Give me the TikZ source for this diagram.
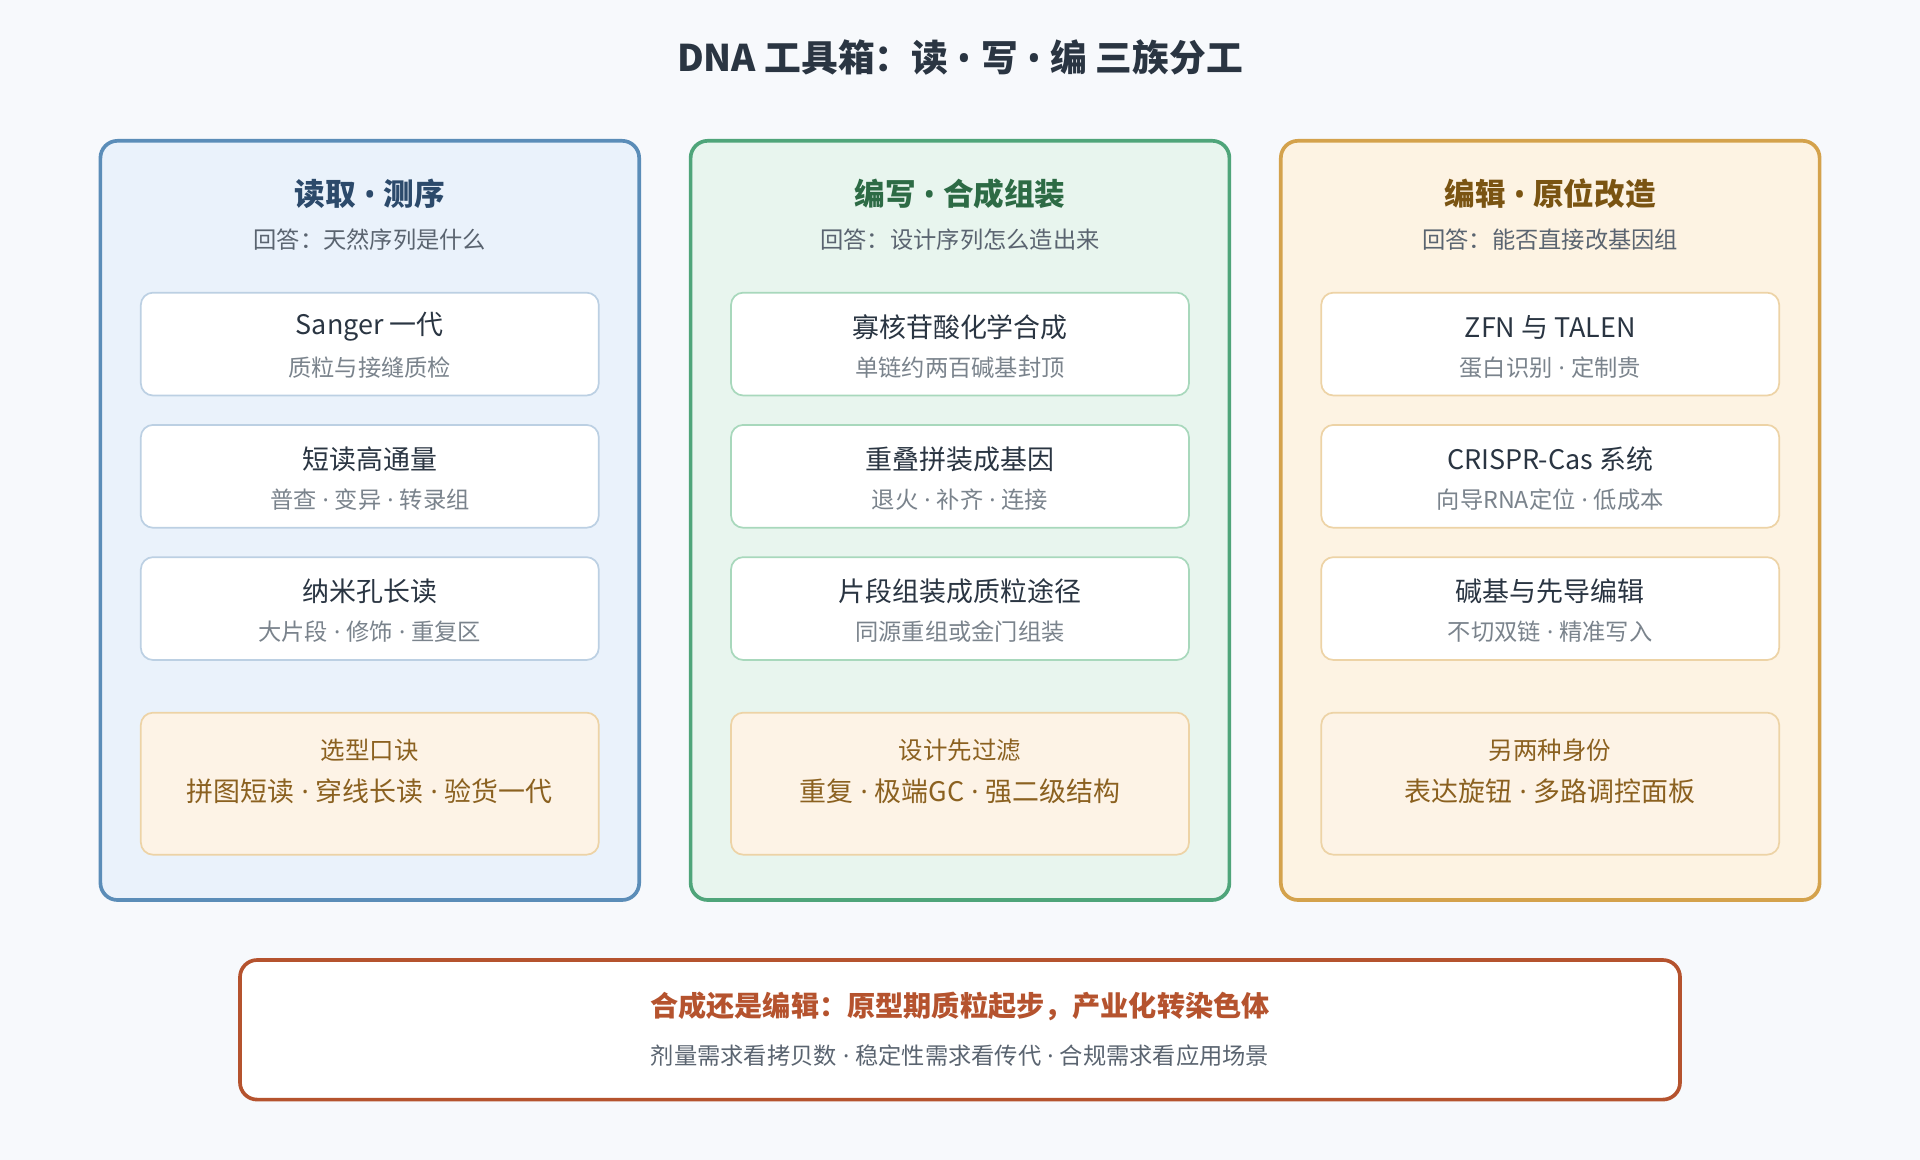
\documentclass[tikz,border=0pt]{standalone}
\usepackage{fontspec}
\setmainfont{Noto Sans CJK SC}
\newfontfamily\lat{Noto Sans}
\newcommand{\mysep}{{\lat\ ·\ }}
\newcommand{\mybul}{{\lat\ •\ }}
\definecolor{bg}{HTML}{F7F9FC}
\definecolor{bB}{HTML}{5B8DB8}\definecolor{fB}{HTML}{EAF2FB}\definecolor{tB}{HTML}{2C4A6B}\definecolor{iB}{HTML}{BCD0E3}
\definecolor{bG}{HTML}{4FA57A}\definecolor{fG}{HTML}{E8F5EE}\definecolor{tG}{HTML}{2D6B45}\definecolor{iG}{HTML}{A8D8BC}
\definecolor{bO}{HTML}{D4A24C}\definecolor{fO}{HTML}{FDF3E3}\definecolor{tO}{HTML}{7A5412}\definecolor{iO}{HTML}{EDD3A6}
\definecolor{tip}{HTML}{FDF3E6}\definecolor{tipt}{HTML}{8B6120}
\definecolor{red}{HTML}{B5532E}\definecolor{gray1}{HTML}{5A6470}\definecolor{dark}{HTML}{2A3542}\definecolor{sub}{HTML}{7A838C}
\begin{document}
\begin{tikzpicture}[x=0.5pt,y=-0.5pt,
 panel/.style={draw=#1,line width=1.5pt,rounded corners=7pt},
 item/.style={draw=#1,line width=0.7pt,fill=white,rounded corners=5pt},
 ptitle/.style={font=\bfseries\fontsize{12.5}{14}\selectfont,text=#1},
 psub/.style={font=\fontsize{9.5}{11}\selectfont,text=gray1},
 it/.style={font=\fontsize{11}{13}\selectfont,text=dark},
 its/.style={font=\fontsize{9.5}{11}\selectfont,text=sub},
 tipl/.style={font=\fontsize{10}{12}\selectfont,text=tipt},
 tip2/.style={font=\fontsize{11}{13}\selectfont,text=tipt}]
\fill[bg] (0,0) rectangle (1568,947);
\node[font=\bfseries\fontsize{15}{18}\selectfont,text=dark] (title) at (784,47) {DNA 工具箱：读\mybul 写\mybul 编 三族分工};
\foreach \x/\b/\f/\t/\i/\T/\S/\Aa/\Ab/\Ba/\Bb/\Ca/\Cb/\Da/\Db/\n in {
 82/bB/fB/tB/iB/{读取\mybul 测序}/{回答：天然序列是什么}/{Sanger 一代}/{质粒与接缝质检}/{短读高通量}/{普查\mysep 变异\mysep 转录组}/{纳米孔长读}/{大片段\mysep 修饰\mysep 重复区}/{选型口诀}/{拼图短读\mysep 穿线长读\mysep 验货一代}/a,
 564/bG/fG/tG/iG/{编写\mybul 合成组装}/{回答：设计序列怎么造出来}/{寡核苷酸化学合成}/{单链约两百碱基封顶}/{重叠拼装成基因}/{退火\mysep 补齐\mysep 连接}/{片段组装成质粒途径}/{同源重组或金门组装}/{设计先过滤}/{重复\mysep 极端GC\mysep 强二级结构}/b,
 1046/bO/fO/tO/iO/{编辑\mybul 原位改造}/{回答：能否直接改基因组}/{ZFN 与 TALEN}/{蛋白识别\mysep 定制贵}/{CRISPR-Cas 系统}/{向导RNA定位\mysep 低成本}/{碱基与先导编辑}/{不切双链\mysep 精准写入}/{另两种身份}/{表达旋钮\mysep 多路调控面板}/c}{
 \draw[panel=\b,fill=\f] (\x,115) rectangle ++(440,620);
 \node[ptitle=\t] (pt\n) at (\x+220,158) {\T};
 \node[psub] (ps\n) at (\x+220,196) {\S};
 \draw[item=\i] (\x+33,239) rectangle ++(374,84);
 \node[it] (a1\n) at (\x+220,267) {\Aa}; \node[its] (a2\n) at (\x+220,300) {\Ab};
 \draw[item=\i] (\x+33,347) rectangle ++(374,84);
 \node[it] (b1\n) at (\x+220,375) {\Ba}; \node[its] (b2\n) at (\x+220,408) {\Bb};
 \draw[item=\i] (\x+33,455) rectangle ++(374,84);
 \node[it] (c1\n) at (\x+220,483) {\Ca}; \node[its] (c2\n) at (\x+220,516) {\Cb};
 \draw[draw=iO,line width=0.7pt,fill=tip,rounded corners=5pt] (\x+33,582) rectangle ++(374,116);
 \node[tipl] (d1\n) at (\x+220,613) {\Da}; \node[tip2] (d2\n) at (\x+220,646) {\Db};
}
\draw[draw=red,line width=1.5pt,fill=white,rounded corners=7pt] (196,784) rectangle (1372,898);
\node[font=\bfseries\fontsize{11.5}{14}\selectfont,text=red] (f1) at (784,822) {合成还是编辑：原型期质粒起步，产业化转染色体};
\node[font=\fontsize{9.5}{11}\selectfont,text=gray1] (f2) at (784,862) {剂量需求看拷贝数\mysep 稳定性需求看传代\mysep 合规需求看应用场景};
\end{tikzpicture}
\end{document}
